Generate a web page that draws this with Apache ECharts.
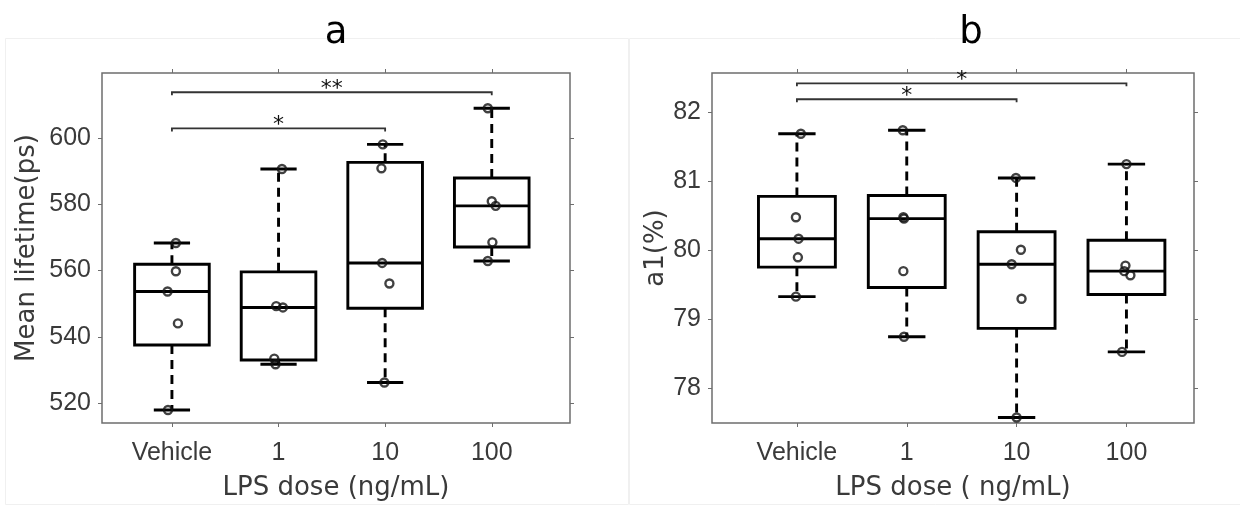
<!DOCTYPE html>
<html>
<head>
<meta charset="utf-8">
<title>LPS dose box plots</title>
<script src="https://cdn.jsdelivr.net/npm/echarts@6/dist/echarts.min.js"></script>
<style>
  html, body { margin: 0; padding: 0; background: #fff; }
  #chart { width: 1240px; height: 507px; }
</style>
</head>
<body>
<div id="chart"></div>
<script>
// dose groups on the x axis (plotted at 1..4)
var doseLabels = ["Vehicle", "1", "10", "100"];
var doseTicks = [1, 2, 3, 4];

// panel a: mean lifetime (ps), five samples per dose
var lifetimeVehicle = [568.3, 559.8, 553.7, 544.1, 518.0];
var lifetimeDose1 = [590.6, 549.3, 548.9, 533.5, 531.8];
var lifetimeDose10 = [598.0, 590.8, 562.3, 556.1, 526.3];
var lifetimeDose100 = [608.9, 580.9, 579.5, 568.5, 562.9];
// horizontal jitter of the dots (x units)
var lifetimeJitter = [
  [0.037, 0.037, -0.041, 0.056, -0.037],
  [0.032, -0.022, 0.041, -0.040, -0.028],
  [-0.022, -0.035, -0.028, 0.040, -0.007],
  [-0.037, 0.000, 0.037, 0.006, -0.037]
];
var lifetimeTicks = [520, 540, 560, 580, 600];

// panel b: a1 (%)
var a1Vehicle = [81.69, 80.48, 80.17, 79.90, 79.33];
var a1Dose1 = [81.74, 80.48, 80.46, 79.70, 78.75];
var a1Dose10 = [81.05, 80.01, 79.80, 79.30, 77.58];
var a1Dose100 = [81.25, 79.78, 79.70, 79.64, 78.53];
var a1Jitter = [
  [0.036, -0.009, 0.015, 0.009, -0.009],
  [-0.036, -0.031, -0.025, -0.031, -0.025],
  [-0.006, 0.039, -0.045, 0.045, 0.000],
  [0.000, -0.009, -0.020, 0.036, -0.040]
];
var a1Ticks = [78, 79, 80, 81, 82];

// significance brackets: [from group, to group, height]
var lifetimeBrackets = [[1, 4, 613.7], [1, 3, 602.8]];
var lifetimeStars = ["**", "*"];
var a1Brackets = [[1, 4, 82.42], [1, 3, 82.19]];
var a1Stars = ["*", "*"];

var BOX_HALF = 0.35;
var CAP_HALF = 0.17;
var AXIS_GRAY = "#6e6e6e";
var TEXT_GRAY = "#3a3a3a";

// matlab-style percentile
function prctile(arr, p) {
  var s = arr.slice().sort(function (a, b) { return a - b; });
  var n = s.length;
  var pos = n * p / 100 + 0.5;
  if (pos <= 1) return s[0];
  if (pos >= n) return s[n - 1];
  var i = Math.floor(pos);
  var f = pos - i;
  return s[i - 1] + f * (s[i] - s[i - 1]);
}

function boxStats(groups) {
  return groups.map(function (g, i) {
    return [doseTicks[i], Math.min.apply(null, g), prctile(g, 25), prctile(g, 50), prctile(g, 75), Math.max.apply(null, g)];
  });
}

function dots(groups, jitter) {
  var out = [];
  groups.forEach(function (g, i) {
    g.forEach(function (v, j) {
      out.push([doseTicks[i] + jitter[i][j], v]);
    });
  });
  return out;
}

function renderBox(params, api) {
  var x = api.value(0);
  var px = api.coord([x, api.value(3)])[0];
  var yLo = api.coord([x, api.value(1)])[1];
  var yQ1 = api.coord([x, api.value(2)])[1];
  var yMed = api.coord([x, api.value(3)])[1];
  var yQ3 = api.coord([x, api.value(4)])[1];
  var yHi = api.coord([x, api.value(5)])[1];
  var half = api.size([BOX_HALF, 0])[0];
  var cap = api.size([CAP_HALF, 0])[0];
  var solid = { stroke: "#000", lineWidth: 2.9, fill: null };
  var dashed = { stroke: "#000", lineWidth: 2.9, lineDash: [9, 6] };
  return {
    type: "group",
    children: [
      { type: "line", shape: { x1: px, y1: yQ3, x2: px, y2: yHi }, style: dashed },
      { type: "line", shape: { x1: px, y1: yQ1, x2: px, y2: yLo }, style: dashed },
      { type: "line", shape: { x1: px - cap, y1: yHi, x2: px + cap, y2: yHi }, style: solid },
      { type: "line", shape: { x1: px - cap, y1: yLo, x2: px + cap, y2: yLo }, style: solid },
      { type: "rect", shape: { x: px - half, y: yQ3, width: 2 * half, height: yQ1 - yQ3 }, style: { stroke: "#000", lineWidth: 2.9, fill: "none" } },
      { type: "line", shape: { x1: px - half, y1: yMed, x2: px + half, y2: yMed }, style: solid }
    ]
  };
}

function bracketRenderer(stars) {
  return function (params, api) {
    var lvl = api.value(2);
    var p1 = api.coord([api.value(0), lvl]);
    var p2 = api.coord([api.value(1), lvl]);
    var drop = 3;
    return {
      type: "group",
      children: [
        { type: "polyline", shape: { points: [[p1[0], p1[1] + drop], [p1[0], p1[1]], [p2[0], p2[1]], [p2[0], p2[1] + drop]] },
          style: { stroke: "#333", lineWidth: 1.8, fill: null } },
        { type: "text", x: (p1[0] + p2[0]) / 2, y: p1[1] - 3,
          style: { text: stars[params.dataIndex], fill: "#111", font: "22px 'DejaVu Sans'", align: "center", verticalAlign: "middle" } }
      ]
    };
  };
}

function xAxes(grid, min, max, name) {
  return [
    {
      type: "value", gridIndex: grid, min: min, max: max, position: "bottom",
      axisLine: { show: false }, splitLine: { show: false },
      axisTick: { show: true, inside: false, length: 4, customValues: doseTicks, lineStyle: { color: AXIS_GRAY } },
      axisLabel: {
        customValues: doseTicks, margin: 18, color: TEXT_GRAY, fontSize: 25, fontFamily: "Liberation Sans",
        formatter: function (v) { return doseLabels[Math.round(v) - 1]; }
      },
      name: name, nameLocation: "middle", nameGap: 52,
      nameTextStyle: { color: TEXT_GRAY, fontSize: 26, fontFamily: "DejaVu Sans" }
    },
    {
      type: "value", gridIndex: grid, min: min, max: max, position: "top",
      axisLine: { show: false }, splitLine: { show: false }, axisLabel: { show: false },
      axisTick: { show: true, inside: false, length: 4, customValues: doseTicks, lineStyle: { color: AXIS_GRAY } }
    }
  ];
}

function yAxes(grid, min, max, ticks, name, gap) {
  return [
    {
      type: "value", gridIndex: grid, min: min, max: max, position: "left",
      axisLine: { show: false }, splitLine: { show: false },
      axisTick: { show: true, inside: false, length: 4, customValues: ticks, lineStyle: { color: AXIS_GRAY } },
      axisLabel: { customValues: ticks, margin: 11, color: TEXT_GRAY, fontSize: 25, fontFamily: "Liberation Sans" },
      name: name, nameLocation: "middle", nameGap: gap,
      nameTextStyle: { color: TEXT_GRAY, fontSize: 26, fontFamily: "DejaVu Sans" }
    },
    {
      type: "value", gridIndex: grid, min: min, max: max, position: "right",
      axisLine: { show: false }, splitLine: { show: false }, axisLabel: { show: false },
      axisTick: { show: true, inside: false, length: 4, customValues: ticks, lineStyle: { color: AXIS_GRAY } }
    }
  ];
}

var lifetimeGroups = [lifetimeVehicle, lifetimeDose1, lifetimeDose10, lifetimeDose100];
var a1Groups = [a1Vehicle, a1Dose1, a1Dose10, a1Dose100];

var dotStyle = { color: "rgba(0,0,0,0)", borderColor: "#111", borderWidth: 2.4 };

var chart = echarts.init(document.getElementById("chart"));
chart.setOption({
  backgroundColor: "#fff",
  animation: false,
  graphic: [
    { type: "rect", shape: { x: 5.5, y: 38.5, width: 623, height: 466 }, style: { fill: "none", stroke: "#f0f0f0", lineWidth: 1 }, silent: true },
    { type: "rect", shape: { x: 629.5, y: 38.5, width: 620, height: 466 }, style: { fill: "none", stroke: "#f0f0f0", lineWidth: 1 }, silent: true }
  ],
  title: [
    { text: "a", left: 331, top: 10, textAlign: "center", textStyle: { fontSize: 37, fontWeight: "normal", fontFamily: "DejaVu Sans", color: "#000" } },
    { text: "b", left: 966, top: 10, textAlign: "center", textStyle: { fontSize: 37, fontWeight: "normal", fontFamily: "DejaVu Sans", color: "#000" } }
  ],
  grid: [
    { left: 102, top: 73, width: 468, height: 350, show: true, borderColor: AXIS_GRAY, borderWidth: 1.5, backgroundColor: "#fff" },
    { left: 712, top: 73, width: 482, height: 350, show: true, borderColor: AXIS_GRAY, borderWidth: 1.5, backgroundColor: "#fff" }
  ],
  xAxis: xAxes(0, 0.344, 4.734, "LPS dose (ng/mL)").concat(xAxes(1, 0.227, 4.615, "LPS dose ( ng/mL)")),
  yAxis: yAxes(0, 514.1, 619.5, lifetimeTicks, "Mean lifetime(ps)", 62).concat(yAxes(1, 77.5, 82.57, a1Ticks, "a1(%)", 43)),
  series: [
    { type: "custom", xAxisIndex: 0, yAxisIndex: 0, renderItem: renderBox, encode: { x: 0, y: [1, 2, 3, 4, 5] }, data: boxStats(lifetimeGroups), z: 2 },
    { type: "scatter", xAxisIndex: 0, yAxisIndex: 0, symbol: "circle", symbolSize: 8, itemStyle: dotStyle, data: dots(lifetimeGroups, lifetimeJitter), z: 3 },
    { type: "custom", xAxisIndex: 0, yAxisIndex: 0, renderItem: bracketRenderer(lifetimeStars), encode: { x: [0, 1], y: 2 }, data: lifetimeBrackets, z: 4 },
    { type: "custom", xAxisIndex: 2, yAxisIndex: 2, renderItem: renderBox, encode: { x: 0, y: [1, 2, 3, 4, 5] }, data: boxStats(a1Groups), z: 2 },
    { type: "scatter", xAxisIndex: 2, yAxisIndex: 2, symbol: "circle", symbolSize: 8, itemStyle: dotStyle, data: dots(a1Groups, a1Jitter), z: 3 },
    { type: "custom", xAxisIndex: 2, yAxisIndex: 2, renderItem: bracketRenderer(a1Stars), encode: { x: [0, 1], y: 2 }, data: a1Brackets, z: 4 }
  ]
});
</script>
</body>
</html>
